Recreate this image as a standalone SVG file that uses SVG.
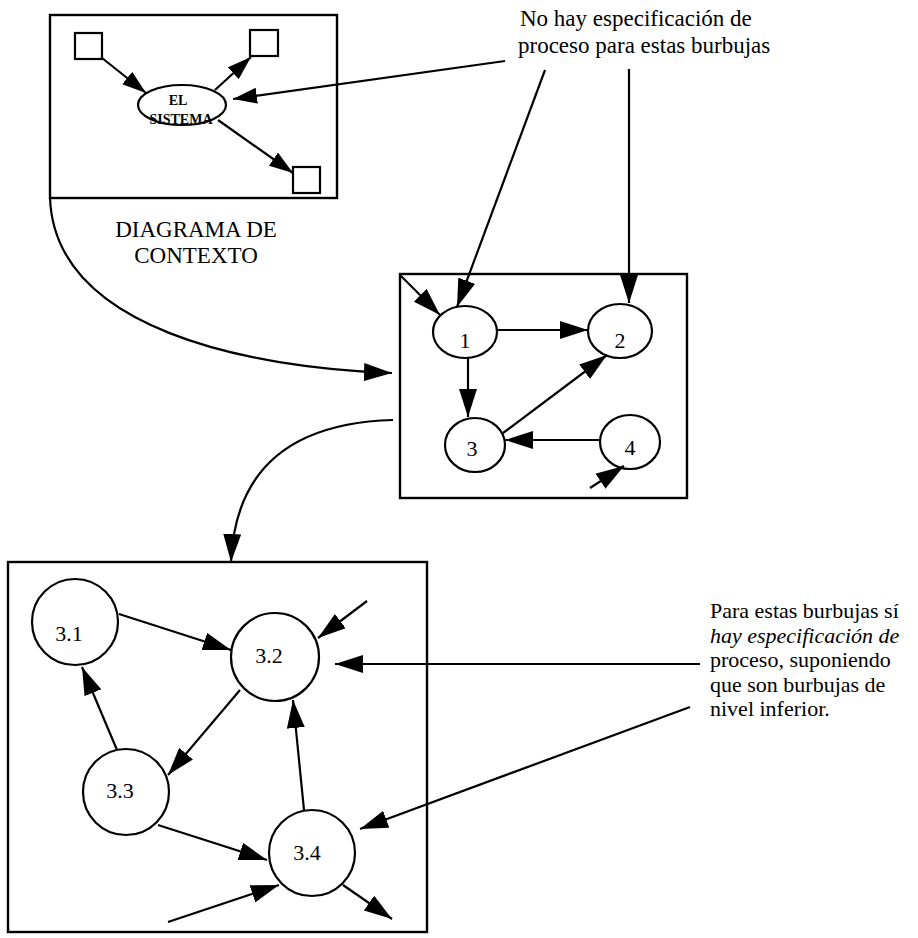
<svg xmlns="http://www.w3.org/2000/svg" width="918" height="938" viewBox="0 0 918 938">
<defs>
<marker id="ah" viewBox="0 0 28 18" refX="28" refY="9" markerWidth="28" markerHeight="18" markerUnits="userSpaceOnUse" orient="auto"><path d="M0,0 L28,9 L0,18 z" fill="#000"/></marker>
<marker id="ahs" viewBox="0 0 24 16" refX="24" refY="8" markerWidth="24" markerHeight="16" markerUnits="userSpaceOnUse" orient="auto"><path d="M0,0 L24,8 L0,16 z" fill="#000"/></marker>
</defs>
<style>
.box{fill:none;stroke:#000;stroke-width:2.4}
.nd{fill:#fff;stroke:#000;stroke-width:2.2}
.ln{fill:none;stroke:#000;stroke-width:2.2;marker-end:url(#ah)}
.lns{fill:none;stroke:#000;stroke-width:2.2;marker-end:url(#ahs)}
text{font-family:"Liberation Serif","Times New Roman",serif;fill:#000;font-size:22px}
.c{text-anchor:middle}
.sm{font-size:14px;font-weight:bold}
.big{font-size:23px}
</style>
<rect width="918" height="938" fill="#fff"/>

<g id="context">
<rect class="box" x="50" y="15" width="287" height="183"/>
<g id="ext1"><rect class="nd" x="75" y="33" width="27" height="26"/></g>
<g id="ext2"><rect class="nd" x="250" y="30" width="28" height="26"/></g>
<g id="ext3"><rect class="nd" x="293" y="167" width="27" height="26"/></g>
<g id="sistema"><ellipse class="nd" cx="182" cy="105" rx="44" ry="20"/>
<text class="c sm" x="178" y="105">EL</text><text class="c sm" x="181" y="124">SISTEMA</text></g>
</g>
<g id="level1">
<rect class="box" x="400" y="274" width="287" height="224"/>
<g id="n1"><ellipse class="nd" cx="465" cy="332" rx="32" ry="26"/><text class="c" x="465" y="348">1</text></g>
<g id="n2"><ellipse class="nd" cx="620" cy="331" rx="32" ry="27"/><text class="c" x="620" y="348">2</text></g>
<g id="n3"><ellipse class="nd" cx="475" cy="445" rx="30" ry="27"/><text class="c" x="472" y="456">3</text></g>
<g id="n4"><ellipse class="nd" cx="630" cy="442" rx="30" ry="27"/><text class="c" x="630" y="455">4</text></g>
</g>
<g id="level2">
<rect class="box" x="8" y="562" width="419" height="370"/>
<g id="n31"><circle class="nd" cx="75" cy="622" r="43"/><text class="c" x="69" y="641">3.1</text></g>
<g id="n32"><circle class="nd" cx="275" cy="657" r="44"/><text class="c" x="269" y="663">3.2</text></g>
<g id="n33"><circle class="nd" cx="126" cy="792" r="43"/><text class="c" x="120" y="798">3.3</text></g>
<g id="n34"><circle class="nd" cx="312" cy="853" r="43"/><text class="c" x="307" y="860">3.4</text></g>
</g>
<g id="labels">
<text class="c big" x="196" y="237">DIAGRAMA DE</text>
<text class="c big" x="196" y="263">CONTEXTO</text>
<text class="big" x="520" y="26">No hay especificación de</text>
<text class="big" x="518" y="53">proceso para estas burbujas</text>
<text x="710" y="618">Para estas burbujas sí</text>
<text x="710" y="643" font-style="italic">hay especificación de</text>
<text x="710" y="667">proceso, suponiendo</text>
<text x="710" y="692">que son burbujas de</text>
<text x="710" y="716">nivel inferior.</text>
</g>
<g id="connectors">
<line class="lns" x1="102" y1="58" x2="146" y2="93"/>
<line class="lns" x1="215" y1="90" x2="251" y2="57"/>
<line class="lns" x1="218" y1="120" x2="293" y2="173"/>
<line class="lns" x1="505" y1="61" x2="233" y2="99"/>
<path class="ln" d="M50,198 C55,330 250,368 392,373"/>
<line class="ln" x1="545" y1="70" x2="457" y2="307"/>
<line class="ln" x1="629" y1="69" x2="629" y2="303"/>
<line class="ln" x1="400" y1="275" x2="440" y2="315"/>
<line class="ln" x1="497" y1="330" x2="588" y2="330"/>
<line class="ln" x1="468" y1="358" x2="468" y2="417"/>
<line class="ln" x1="503" y1="433" x2="607" y2="355"/>
<line class="ln" x1="600" y1="440" x2="505" y2="440"/>
<line class="ln" x1="590" y1="488" x2="624" y2="466"/>
<path class="ln" d="M393,420 C290,423 235,470 231,562"/>
<line class="ln" x1="119" y1="614" x2="231" y2="650"/>
<line class="ln" x1="240" y1="690" x2="168" y2="775"/>
<line class="ln" x1="117" y1="750" x2="82" y2="667"/>
<line class="ln" x1="158" y1="825" x2="267" y2="860"/>
<line class="ln" x1="304" y1="810" x2="293" y2="700"/>
<line class="ln" x1="367" y1="601" x2="318" y2="638"/>
<line class="ln" x1="700" y1="664" x2="335" y2="664"/>
<line class="ln" x1="690" y1="707" x2="360" y2="829"/>
<line class="ln" x1="168" y1="922" x2="279" y2="885"/>
<line class="ln" x1="343" y1="885" x2="392" y2="919"/>
</g>
</svg>
